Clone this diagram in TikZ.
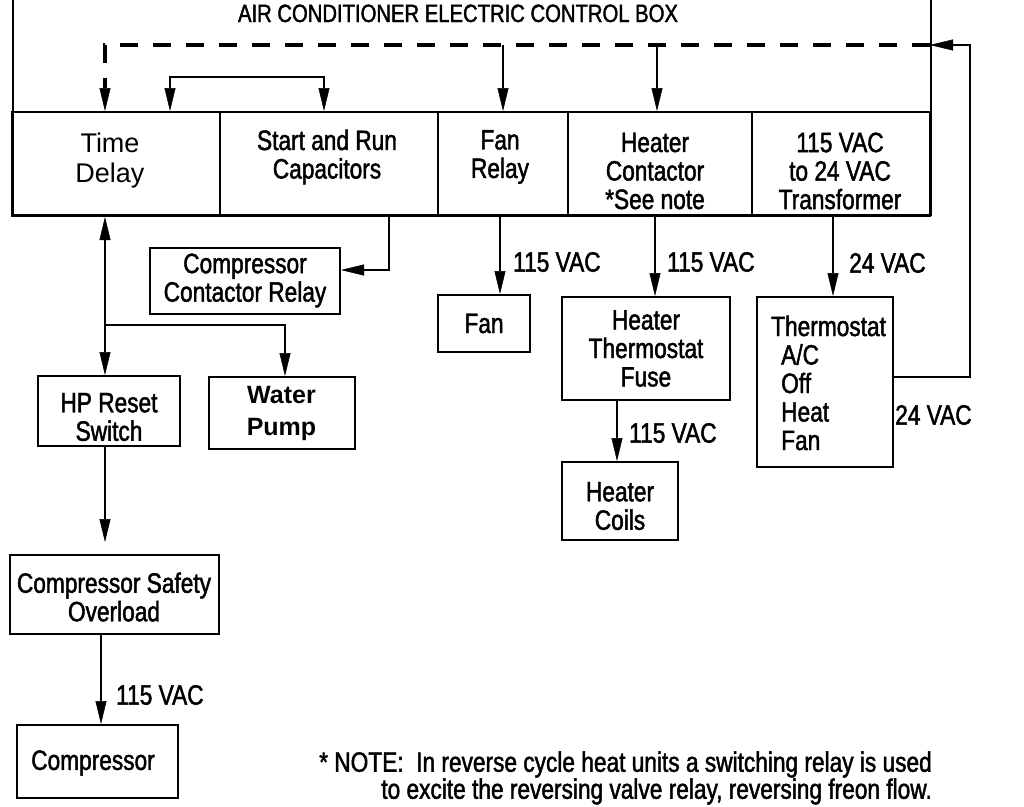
\documentclass[tikz,border=0pt]{standalone}
\usepackage{fontspec}
\setmainfont{Liberation Sans}[FakeStretch=0.81,FakeBold=1.6]
\newfontfamily\widefont{Liberation Sans}
\usetikzlibrary{arrows.meta,calc}
\newcommand\lblfont{\fontsize{28}{28.5}\selectfont}
\newcommand\tdfont{\widefont\fontsize{27}{30}\selectfont}
\newcommand\wpfont{\widefont\bfseries\fontsize{25}{32}\selectfont}
\newcommand\titlefont{\fontsize{25}{25}\selectfont}
\newcommand\notefont{\fontsize{28}{27}\selectfont}
\begin{document}
\begin{tikzpicture}[x=1pt,y=-1pt,
  box/.style={draw,line width=2pt,inner sep=0pt,align=center,font=\lblfont},
  txt/.style={inner sep=0pt,align=center,font=\lblfont},
  conn/.style={line width=1.8pt},
  arr/.style={conn,-{Triangle[length=23pt,width=11pt,line width=0.5pt]}},
  darr/.style={conn,{Triangle[length=23pt,width=11pt,line width=0.5pt]}-{Triangle[length=23pt,width=11pt,line width=0.5pt]}},
  dashline/.style={line width=4pt,dash pattern=on 18pt off 15pt,-{Triangle[length=23pt,width=11pt,line width=0.5pt]}},
]
\useasboundingbox (0,0) rectangle (1024,806);
\fill[white] (0,0) rectangle (1024,806);

% control box
\node[draw,line width=2pt,inner sep=0pt,minimum width=918pt,minimum height=260pt,anchor=south west] (cbox) at (12,216) {};
\node[font=\titlefont,anchor=base,inner sep=0pt] (title) at (458,22) {AIR CONDITIONER ELECTRIC CONTROL BOX};

% row of cells
\node[box,minimum width=208pt,minimum height=104pt] (td) at (116,164) {};
\node[txt,font=\tdfont] (tdt) at (110,161) {Time\\Delay};
\node[box,minimum width=218pt,minimum height=104pt] (cap) at (329,164) {};
\node[txt] (capt) at (327,157) {Start and Run\\Capacitors};
\node[box,minimum width=130pt,minimum height=104pt] (fr) at (503,164) {};
\node[txt] (frt) at (500,157) {Fan\\Relay};
\node[box,minimum width=184pt,minimum height=104pt] (hc) at (660,164) {};
\node[txt] (hct) at (655,171) {Heater\\Contactor\\*See note};
\node[box,minimum width=178pt,minimum height=104pt] (tr) at (841,164) {};
\node[txt] (trt) at (840,171) {115 VAC\\to 24 VAC\\Transformer};

% other boxes
\node[box,minimum width=190pt,minimum height=66pt] (ccr) at (245,280.5) {Compressor\\Contactor Relay};
\node[box,minimum width=142pt,minimum height=70pt] (hp) at (109,411) {};
\node[txt] (hpt) at (109,417) {HP Reset\\Switch};
\node[box,minimum width=146pt,minimum height=72pt,font=\wpfont] (wp) at (281.5,413) {Water\\Pump};
\node[box,minimum width=92pt,minimum height=57pt] (fan) at (484,323.5) {Fan};
\node[box,minimum width=168pt,minimum height=103pt] (htf) at (646,348.5) {Heater\\Thermostat\\Fuse};
\node[box,minimum width=116pt,minimum height=78pt] (coils) at (620,501) {};
\node[txt] (coilst) at (620,506) {Heater\\Coils};
\node[box,minimum width=136pt,minimum height=170pt] (therm) at (825,382) {};
\node[txt,align=left,anchor=west] (thermt) at (771,383) {Thermostat\\\hspace*{10pt}A/C\\\hspace*{10pt}Off\\\hspace*{10pt}Heat\\\hspace*{10pt}Fan};
\node[box,minimum width=209pt,minimum height=79pt] (cso) at (114.5,594.5) {};
\node[txt] (csot) at (114,597) {Compressor Safety\\Overload};
\node[box,minimum width=161pt,minimum height=73pt] (comp) at (97.5,761.5) {};
\node[txt] (compt) at (93,763) {Compressor};

% coordinates
\coordinate (dR) at (930,45);
\coordinate (dL) at (105,45);
\coordinate (ret) at (970,45);
\coordinate (dfr) at (503,45);
\coordinate (dhc) at (657,45);
\coordinate (bL) at (170,77);
\coordinate (bR) at (324,77);
\coordinate (vx) at (105,325);
\coordinate (wpx) at (285,325);
\coordinate (cc) at (389,270);
\coordinate (cx) at (101,680);
\coordinate (fx) at (500,250);
\coordinate (hx) at (655,250);
\coordinate (cx2) at (617,430);
\coordinate (tx) at (833,250);

% connectors inside the control box
\draw[dashline] (dR) -- (dL) -- (dL |- td.north);
\draw[arr] (dfr) -- (dfr |- fr.north);
\draw[arr] (dhc) -- (dhc |- hc.north);
\draw[arr] ($(therm.east)+(0,-5)$) -| (ret) -- (dR);
\draw[darr] (bL |- td.north) -- (bL) -- (bR) -- (bR |- cap.north);

% left side
\draw[darr] (vx |- td.south) -- (vx |- hp.north);
\draw[arr] (vx) -- (wpx) -- (wpx |- wp.north);
\draw[arr] (cc |- cap.south) -- (cc) -- (ccr.east |- cc);
\draw[arr,shorten >=12pt] (vx |- hp.south) -- (vx |- cso.north);
\draw[arr] (cx |- cso.south) -- (cx |- comp.north);
\node[txt,anchor=west] (l1) at (116,695) {115 VAC};

% right side
\draw[arr] (fx |- fr.south) -- (fx |- fan.north);
\node[txt,anchor=west] (l2) at (513,262) {115 VAC};
\draw[arr] (hx |- hc.south) -- (hx |- htf.north);
\node[txt,anchor=west] (l3) at (667,262) {115 VAC};
\draw[arr] (cx2 |- htf.south) -- (cx2 |- coils.north);
\node[txt,anchor=west] (l4) at (629,433) {115 VAC};
\draw[arr] (tx |- tr.south) -- (tx |- therm.north);
\node[txt,anchor=west] (l5) at (849,263) {24 VAC};
\node[txt,anchor=west] (l6) at (895,415) {24 VAC};

% note
\node[txt,align=right,anchor=east,font=\notefont] (note) at (932,778) {* NOTE:\ \ In reverse cycle heat units a switching relay is used\\to excite the reversing valve relay, reversing freon flow.};
\end{tikzpicture}
\end{document}
